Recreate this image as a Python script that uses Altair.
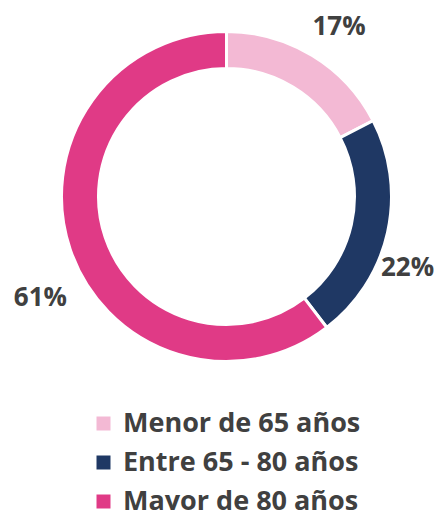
import altair as alt
import pandas as pd

categories = ["Menor de 65 años", "Entre 65 - 80 años", "Mayor de 80 años"]
shares = [17.4, 22.2, 60.4]
labels = ["17%", "22%", "61%"]
colors = ["#F3B9D4", "#1F3864", "#E03A86"]

df = pd.DataFrame({"cat": categories, "share": shares, "label": labels, "idx": list(range(len(categories)))})

FONT = "Open Sans"
CX, CY = 218.5, 188.5
TOTAL = sum(shares)

color = alt.Color(
    "cat:N",
    scale=alt.Scale(domain=categories, range=colors),
    sort=categories,
    legend=alt.Legend(
        title=None, orient="none", legendX=82, legendY=402,
        symbolType="square", symbolSize=196, symbolStrokeWidth=0,
        labelFont=FONT, labelFontSize=27, labelFontWeight="bold", labelColor="#404040",
        labelOffset=6, rowPadding=11, padding=0, labelLimit=400,
    ),
)

arcs = alt.Chart(df).mark_arc(radius=165, radius2=128, stroke="white", strokeWidth=3).encode(
    theta=alt.Theta("share:Q", stack=True),
    order=alt.Order("idx:Q"),
    x=alt.value(CX),
    y=alt.value(CY),
    color=color,
)

lbl_base = alt.Chart(df).transform_window(
    cum="sum(share)", sort=[alt.SortField("idx")]
).transform_calculate(mid="datum.cum - datum.share / 2")

nudges = {"17%": (6, 6), "22%": (-19, 27), "61%": (8, 36)}
texts = []
for lab in labels:
    dx, dy = nudges[lab]
    texts.append(
        lbl_base.transform_filter(alt.datum.label == lab).mark_text(
            radius=205, font=FONT, fontSize=26, fontWeight="bold", color="#404040", dx=dx, dy=dy
        ).encode(
            theta=alt.Theta("mid:Q", scale=alt.Scale(domain=[0, TOTAL])),
            x=alt.value(CX),
            y=alt.value(CY),
            text="label:N",
        )
    )

chart = alt.layer(arcs, *texts).resolve_scale(theta="independent").properties(
    width=428, height=502, autosize=alt.AutoSizeParams(type="none"), padding=0
).configure_view(stroke=None)

chart.save("out.html", embed_options={"renderer": "svg", "actions": False})
